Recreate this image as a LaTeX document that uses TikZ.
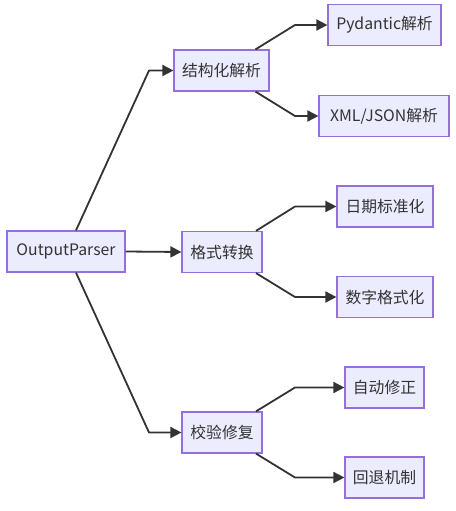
\documentclass[tikz,border=0pt]{standalone}
\usepackage{fontspec}
\newfontfamily\cjk{Noto Sans CJK SC}
\usetikzlibrary{arrows.meta}
\definecolor{boxfill}{HTML}{ECECFF}
\definecolor{boxline}{HTML}{9370DB}
\definecolor{ink}{HTML}{333333}
\tikzset{
  blk/.style={draw=boxline, fill=boxfill, rectangle, line width=1.2pt, minimum height=41pt,
    inner sep=0pt, align=center, text=ink, font=\cjk\fontsize{15.8}{18}\selectfont},
  arr/.style={-{Triangle[length=11pt, width=11pt]}, draw=ink, line width=1.8pt, line join=round},
}

\begin{document}
\begin{tikzpicture}[x=1pt, y=-1pt]
\useasboundingbox (0,0) rectangle (455,511);

\node[blk, minimum width=118pt] (root) at (66,251.5) {OutputParser};

\node[blk, minimum width=95pt] (struct) at (221.5,70.5) {结构化解析};
\node[blk, minimum width=80pt] (fmt) at (222,252) {格式转换};
\node[blk, minimum width=80pt] (check) at (222,432.5) {校验修复};

\node[blk, minimum width=113pt] (pyd) at (384.5,25) {Pydantic解析};
\node[blk, minimum width=130pt] (xml) at (384,116) {XML/JSON解析};
\node[blk, minimum width=96pt] (date) at (385,206.5) {日期标准化};
\node[blk, minimum width=96pt] (num) at (385,297) {数字格式化};
\node[blk, minimum width=79pt] (auto) at (384.5,387.5) {自动修正};
\node[blk, minimum width=79pt] (back) at (384.5,477.5) {回退机制};

% bend columns
\coordinate (jl) at (149,0);
\coordinate (jr) at (295,0);

\draw[arr] ([xshift=10pt]root.north) -- (jl |- struct.west) -- (struct.west);
\draw[arr] (root.east) -- (fmt.west);
\draw[arr] ([xshift=10pt]root.south) -- (jl |- check.west) -- (check.west);

\draw[arr] ([xshift=34pt]struct.north) -- (jr |- pyd.west) -- (pyd.west);
\draw[arr] ([xshift=34pt]struct.south) -- (jr |- xml.west) -- (xml.west);
\draw[arr] ([xshift=34pt]fmt.north) -- (jr |- date.west) -- (date.west);
\draw[arr] ([xshift=34pt]fmt.south) -- (jr |- num.west) -- (num.west);
\draw[arr] ([xshift=34pt]check.north) -- (jr |- auto.west) -- (auto.west);
\draw[arr] ([xshift=34pt]check.south) -- (jr |- back.west) -- (back.west);

\end{tikzpicture}
\end{document}
